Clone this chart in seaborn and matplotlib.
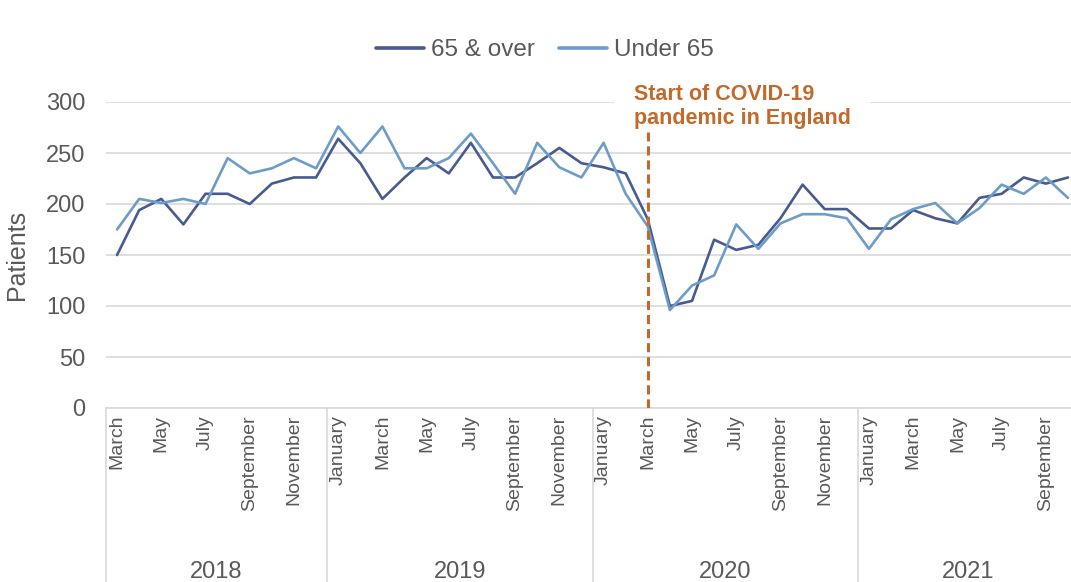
import numpy as np
import pandas as pd
import matplotlib
matplotlib.use("Agg")
import matplotlib.pyplot as plt
import matplotlib.transforms as mtransforms
from matplotlib.lines import Line2D
import seaborn as sns

# ---------------- data ----------------
months = ["March", "April", "May", "June", "July", "August", "September", "October", "November", "December",
          "January", "February", "March", "April", "May", "June", "July", "August", "September", "October", "November", "December",
          "January", "February", "March", "April", "May", "June", "July", "August", "September", "October", "November", "December",
          "January", "February", "March", "April", "May", "June", "July", "August", "September", "October"]
years = [2018] * 10 + [2019] * 12 + [2020] * 12 + [2021] * 10

over_65 = [150, 194, 205, 180, 210, 210, 200, 220, 226, 226,
           264, 240, 205, 226, 245, 230, 260, 226, 226, 240, 255, 240,
           236, 230, 185, 100, 105, 165, 155, 160, 186, 219, 195, 195,
           176, 176, 194, 186, 181, 206, 210, 226, 220, 226]
under_65 = [175, 205, 201, 205, 200, 245, 230, 235, 245, 235,
            276, 250, 276, 235, 235, 245, 269, 240, 210, 260, 236, 226,
            260, 210, 178, 96, 120, 130, 180, 156, 181, 190, 190, 186,
            156, 185, 195, 201, 181, 196, 219, 210, 226, 206]
series_names = ["65 & over", "Under 65"]
series_colors = ["#475B8E", "#6E9CC9"]
covid_index = 24  # March 2020
covid_label = "Start of COVID-19\npandemic in England"
y_ticks = [0, 50, 100, 150, 200, 250, 300]

# ---------------- style ----------------
sns.set_theme(style="white")
plt.rcParams["font.family"] = ["Liberation Sans", "DejaVu Sans"]
TXT = "#595959"
GRID = "#D9D9D9"
ORANGE = "#C2692C"

n = len(months)
df = pd.DataFrame({
    "idx": list(range(n)) * 2,
    "Patients": over_65 + under_65,
    "Series": [series_names[0]] * n + [series_names[1]] * n,
})

W, H = 1071, 582
fig = plt.figure(figsize=(W / 100, H / 100), dpi=100)
ax = fig.add_axes([106 / W, 1 - 408 / H, (1079 - 106) / W, 306 / H])

sns.lineplot(data=df, x="idx", y="Patients", hue="Series",
             palette=dict(zip(series_names, series_colors)),
             linewidth=1.9, ax=ax, legend=False, zorder=3)

ax.set_xlim(-0.5, n - 0.5)
ax.set_ylim(0, 300)
ax.set_yticks(y_ticks)
ax.set_yticklabels([str(t) for t in y_ticks], fontsize=17, color=TXT)
ax.yaxis.grid(True, color=GRID, lw=1.2, zorder=0)
ax.set_axisbelow(True)
for s in ["left", "right", "top"]:
    ax.spines[s].set_visible(False)
ax.spines["bottom"].set_color(GRID)
ax.spines["bottom"].set_linewidth(1.2)
ax.tick_params(axis="y", length=0, pad=15)
ax.tick_params(axis="x", length=0, pad=5)

tick_idx = list(range(0, n, 2))
ax.set_xticks(tick_idx)
ax.set_xticklabels([months[i] for i in tick_idx], rotation=90, fontsize=14, color=TXT)
ax.set_xlabel("")
ax.set_ylabel("Patients", fontsize=18, color=TXT)
ax.yaxis.set_label_coords(-0.079, 0.5)

# multi-level year axis
trans = mtransforms.blended_transform_factory(ax.transData, ax.transAxes)
bounds = [-0.5] + [i - 0.5 for i in range(1, n) if years[i] != years[i - 1]] + [n - 0.5]
sep_bottom = -(H - 408) / 306
for b in bounds[:-1]:
    ax.add_line(Line2D([b, b], [0, sep_bottom], transform=trans, color=GRID, lw=1.2, clip_on=False))
for k in range(len(bounds) - 1):
    yr = years[int(bounds[k] + 0.5)]
    ax.text((bounds[k] + bounds[k + 1]) / 2, -(572 - 408) / 306, str(yr), transform=trans,
            ha="center", va="center", fontsize=17, color=TXT)

# COVID marker
ax.axvline(covid_index, ymin=0, ymax=0.903, color=ORANGE, lw=2.2,
           ls=(0, (3, 1.6)), zorder=4)
ax.annotate(covid_label, xy=(covid_index, 271), xytext=(-14, 48), textcoords="offset pixels",
            ha="left", va="top", fontsize=15.5, fontweight="bold", color=ORANGE,
            linespacing=1.2, zorder=1.5, annotation_clip=False,
            bbox=dict(boxstyle="square,pad=0.9", fc="white", ec="none"))

# legend
handles = [Line2D([], [], color=c, lw=2.6) for c in series_colors]
leg = fig.legend(handles, series_names, loc="center", bbox_to_anchor=(545 / W, 1 - 50 / H),
                 ncol=2, frameon=False, fontsize=17.5, handlelength=1.95, handletextpad=0.3,
                 columnspacing=1.0)
for t in leg.get_texts():
    t.set_color(TXT)

fig.savefig("out.png", dpi=100, facecolor="white")
